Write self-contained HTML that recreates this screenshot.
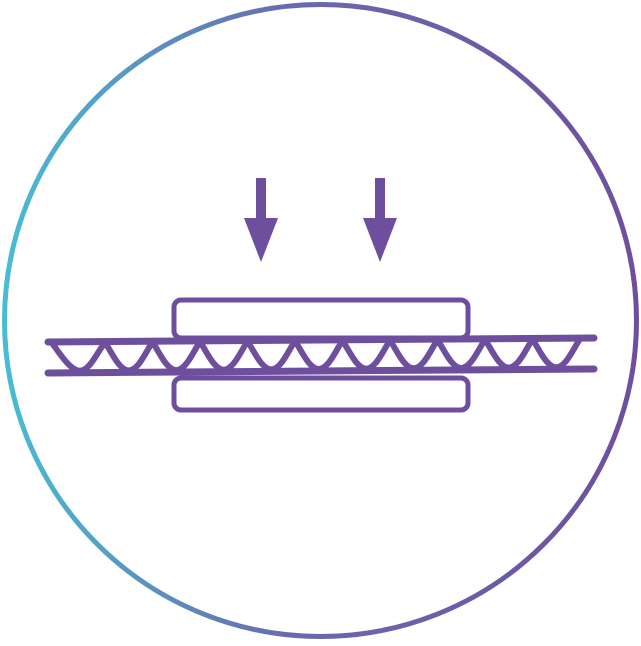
<!DOCTYPE html>
<html><head><style>html,body{margin:0;padding:0;background:#fff}</style></head><body>
<svg width="641" height="641" viewBox="0 0 641 641" xmlns="http://www.w3.org/2000/svg">
<defs><linearGradient id="g" x1="0" y1="0" x2="1" y2="0">
<stop offset="0" stop-color="#49bcd3"/><stop offset="0.45" stop-color="#6a6aae"/><stop offset="1" stop-color="#6e4f9e"/></linearGradient></defs>
<circle cx="320.5" cy="320.5" r="316" fill="none" stroke="url(#g)" stroke-width="5"/>
<g fill="#6e4f9e" stroke="none">
<rect x="256" y="178" width="10" height="50"/>
<polygon points="244,218 278,218 261,262"/>
<rect x="375" y="178" width="10" height="50"/>
<polygon points="363,218 397,218 380,262"/>
</g>
<g fill="none" stroke="#6e4f9e" stroke-linecap="round">
<rect x="174" y="300" width="294" height="38" rx="7" stroke-width="5"/>
<rect x="174" y="378" width="294" height="32" rx="7" stroke-width="5"/>
<line x1="48" y1="342" x2="594" y2="338" stroke-width="7"/>
<line x1="48" y1="373" x2="594" y2="369" stroke-width="7"/>
<path id="w" stroke-width="6" stroke-linejoin="round" d=""/>
</g>
<script>
function yt(x){return 343-4*(x-48)/546;}
function yb(x){return 371-4*(x-48)/546;}
var d="M52,"+yt(52).toFixed(1)+" C58,"+(yt(58)+8).toFixed(1)+" 70,"+yb(70).toFixed(1)+" 80,"+yb(80).toFixed(1)+" C90,"+yb(90).toFixed(1)+" 98,"+(yt(98)+8).toFixed(1)+" 105,"+yt(105).toFixed(1);
var p=47.5;
for(var k=1;k<12;k++){
 var a=105+(k-1)*p, b=a+23.75, c=a+47.5; if(c>590)break;
 d+=" C"+(a+6)+","+(yt(a)+8).toFixed(1)+" "+(b-10)+","+yb(b).toFixed(1)+" "+b+","+yb(b).toFixed(1)+" C"+(b+10)+","+yb(b).toFixed(1)+" "+(c-6)+","+(yt(c)+8).toFixed(1)+" "+c+","+yt(c).toFixed(1);
}
document.getElementById("w").setAttribute("d",d);
</script>
</svg>
</body></html>
